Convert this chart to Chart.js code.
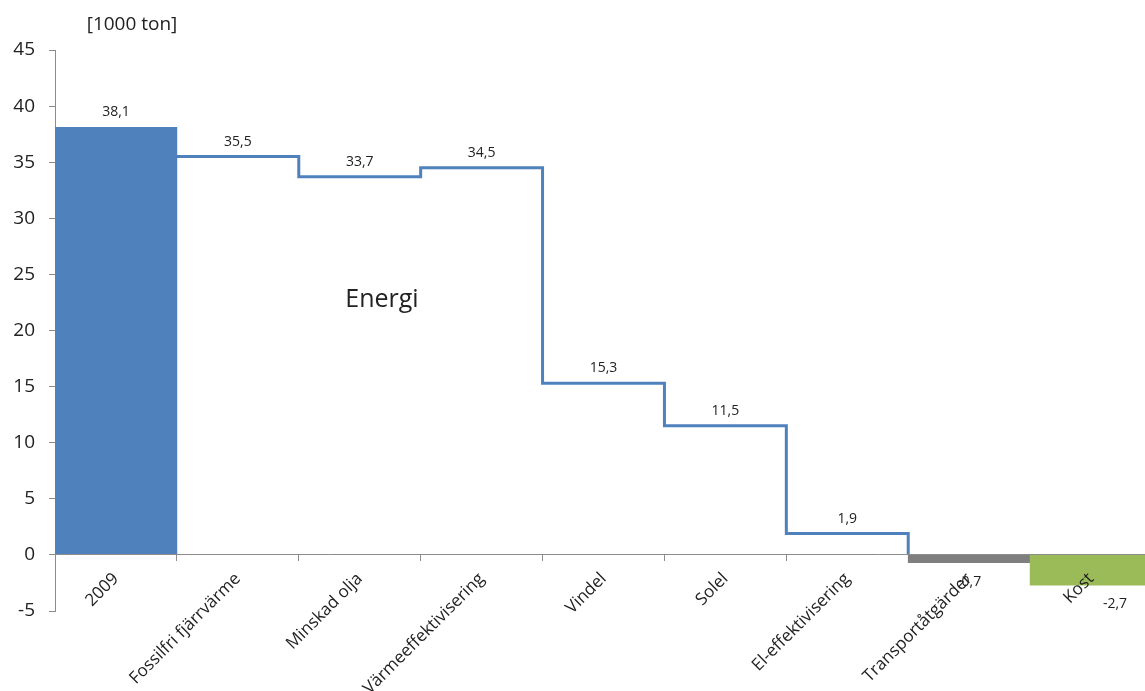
<!DOCTYPE html>
<html>
<head>
<meta charset="utf-8">
<script src="https://cdn.jsdelivr.net/npm/chart.js@4.4.1/dist/chart.umd.min.js"></script>
<style>
html,body{margin:0;padding:0;background:#fff;overflow:hidden;}
#wrap{width:1152px;height:691px;}
</style>
</head>
<body>
<div id="wrap"><canvas id="c" width="1152" height="691"></canvas></div>
<script>
const categories = ["2009","Fossilfri fjärrvärme","Minskad olja","Värmeeffektivisering","Vindel","Solel","El-effektivisering","Transportåtgärder","Kost"];
const values = [38.1, 35.5, 33.7, 34.5, 15.3, 11.5, 1.9, -0.7, -2.7];
const labelTexts = ["38,1","35,5","33,7","34,5","15,3","11,5","1,9","-0,7","-2,7"];
const barIndices = [0, 7, 8];
const lineIndices = [1, 2, 3, 4, 5, 6];
const yTicks = [-5, 0, 5, 10, 15, 20, 25, 30, 35, 40, 45];
const unitLabel = "[1000 ton]";
const sectionLabel = "Energi";

const FONT = "'Open Sans', 'Liberation Sans', sans-serif";
const BLUE = "#4F81BD", GRAY = "#7F7F7F", GREEN = "#9BBB59";
const barColors = [BLUE, null, null, null, null, null, null, GRAY, GREEN];

const barData = values.map((v, i) => barIndices.includes(i) ? v : null);
const linePts = [];
lineIndices.forEach(i => {
  linePts.push({x: i - 0.5, y: values[i]});
  linePts.push({x: i + 0.5, y: values[i]});
});
linePts.push({x: lineIndices[lineIndices.length - 1] + 0.5, y: 0});

const textPlugin = {
  id: 'texts',
  afterDraw(chart) {
    const ctx = chart.ctx;
    const xs = chart.scales.x, ys = chart.scales.y;
    ctx.save();
    ctx.fillStyle = '#222';
    ctx.font = "14px " + FONT;
    ctx.textAlign = 'center';
    ctx.textBaseline = 'middle';
    values.forEach((v, i) => {
      let x = xs.getPixelForValue(i);
      const y = ys.getPixelForValue(v);
      if (v >= 0) {
        ctx.fillText(labelTexts[i], x, y - 15);
      } else {
        if (i === values.length - 1) x += 24;
        ctx.fillText(labelTexts[i], x, y + 19);
      }
    });
    ctx.font = "19px " + FONT;
    ctx.fillText(unitLabel, 132, 25);
    ctx.font = "25px " + FONT;
    ctx.fillText(sectionLabel, 382, 300);
    ctx.restore();
  }
};

new Chart(document.getElementById('c'), {
  data: {
    labels: categories,
    datasets: [
      {
        type: 'bar',
        data: barData,
        backgroundColor: barColors,
        barPercentage: 1,
        categoryPercentage: 1,
        grouped: false,
        xAxisID: 'x',
        yAxisID: 'y',
        order: 2
      },
      {
        type: 'line',
        data: linePts,
        borderColor: BLUE,
        borderWidth: 3,
        pointRadius: 0,
        fill: false,
        tension: 0,
        xAxisID: 'xl',
        yAxisID: 'y',
        order: 1
      }
    ]
  },
  plugins: [textPlugin],
  options: {
    responsive: false,
    animation: false,
    layout: {padding: {top: 50, bottom: 80, left: 0, right: 0}},
    plugins: {legend: {display: false}, tooltip: {enabled: false}},
    scales: {
      x: {
        type: 'category',
        position: {y: 0},
        offset: true,
        grid: {offset: true, drawOnChartArea: false, drawTicks: true, tickLength: 6, color: '#8c8c8c'},
        border: {color: '#8c8c8c', width: 1, z: 1},
        ticks: {font: {size: 17, family: FONT}, color: '#222', maxRotation: 45, minRotation: 45, autoSkip: false, padding: 8, z: 1}
      },
      xl: {
        type: 'linear',
        display: false,
        min: -0.5,
        max: categories.length - 0.5
      },
      y: {
        min: yTicks[0],
        max: yTicks[yTicks.length - 1],
        afterFit: s => { s.width = 55; },
        afterBuildTicks: s => { s.ticks = yTicks.map(v => ({value: v})); },
        grid: {drawOnChartArea: false, drawTicks: true, tickLength: 6, color: '#8c8c8c'},
        border: {color: '#8c8c8c', width: 1},
        ticks: {font: {size: 19, family: FONT}, color: '#222', padding: 14}
      }
    }
  }
});
</script>
</body>
</html>
